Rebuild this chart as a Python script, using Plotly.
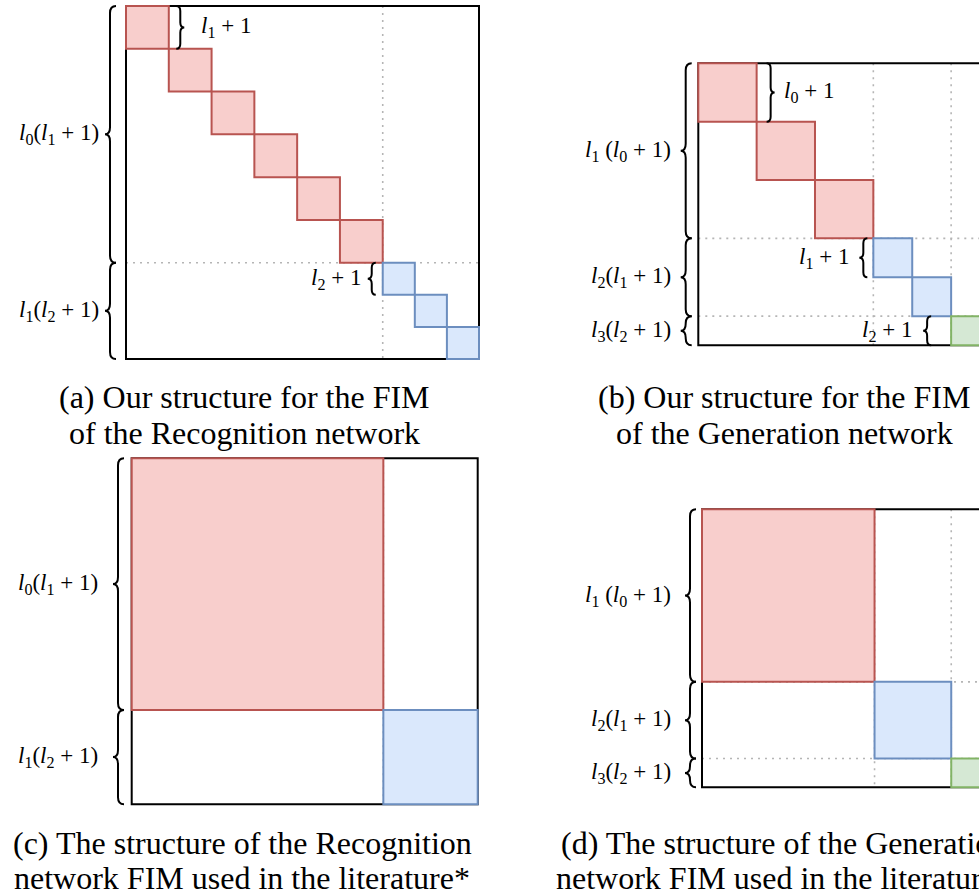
import plotly.graph_objects as go

W, H = 979, 895

# Layer structure of the two networks: diagonal blocks per layer and block size
rec_counts = [6, 3]
rec_sizes = [4, 3]
gen_counts = [3, 2, 1]
gen_sizes = [6, 4, 3]

# Size labels (HTML maths)
rec_span_labels = ["<i>l</i><sub>0</sub>(<i>l</i><sub>1</sub> + 1)",
                   "<i>l</i><sub>1</sub>(<i>l</i><sub>2</sub> + 1)"]
rec_block_labels = ["<i>l</i><sub>1</sub> + 1", "<i>l</i><sub>2</sub> + 1"]
gen_span_labels = ["<i>l</i><sub>1</sub> (<i>l</i><sub>0</sub> + 1)",
                   "<i>l</i><sub>2</sub>(<i>l</i><sub>1</sub> + 1)",
                   "<i>l</i><sub>3</sub>(<i>l</i><sub>2</sub> + 1)"]
gen_block_labels = ["<i>l</i><sub>0</sub> + 1", "<i>l</i><sub>1</sub> + 1",
                    "<i>l</i><sub>2</sub> + 1"]

caption_a = ["(a) Our structure for the FIM", "of the Recognition network"]
caption_b = ["(b) Our structure for the FIM", "of the Generation network"]
caption_c = ["(c) The structure of the Recognition", "network FIM used in the literature*"]
caption_d = ["(d) The structure of the Generation", "network FIM used in the literature*"]

FILLS = ["#f8cecc", "#dae8fc", "#d5e8d4"]
EDGES = ["#b85450", "#6c8ebf", "#82b366"]
DOT = "#b5b5b5"
FONT = "Liberation Serif"
LABEL_SIZE = 23
CAPTION_SIZE = 32

# Panel geometry in pixels: matrix box origin, pixels per matrix unit, drawing area
panels = [
    dict(counts=rec_counts, sizes=rec_sizes, spans=rec_span_labels,
         blocks=rec_block_labels, diag=True,
         x0=126, y0=6, ppu=353 / 33, area=(0, 0, 489, 369),
         span_dx=-16, span_text=-25,
         block_dx=[(1, 11.5, 30), (-1, -11, -20)]),
    dict(counts=gen_counts, sizes=gen_sizes, spans=gen_span_labels,
         blocks=gen_block_labels, diag=True,
         x0=698.3, y0=63.3, ppu=282 / 29, area=(560, 30, 979, 369),
         span_dx=-12.6, span_text=-25,
         block_dx=[(1, 14, 25), (-1, -10, -22), (-1, -24, -37)]),
    dict(counts=rec_counts, sizes=rec_sizes, spans=rec_span_labels,
         blocks=None, diag=False,
         x0=131.7, y0=458.3, ppu=346 / 33, area=(0, 450, 489, 812),
         span_dx=-13.7, span_text=-32),
    dict(counts=gen_counts, sizes=gen_sizes, spans=gen_span_labels,
         blocks=None, diag=False,
         x0=702, y0=509.3, ppu=278 / 29, area=(560, 490, 979, 800),
         span_dx=-12, span_text=-29),
]

captions = [(caption_a, 244, 397, 433), (caption_b, 784, 397, 433),
            (caption_c, 242, 843, 878), (caption_d, 784, 843, 878)]


def brace_path(xs, y1, y2, d, hook, q, tip):
    """Curly brace along x = xs from y1 to y2; d=-1 tip points left, d=+1 right."""
    ym = (y1 + y2) / 2
    return (f"M {xs - d * hook},{y1} Q {xs},{y1} {xs},{y1 + q} "
            f"L {xs},{ym - q} Q {xs},{ym} {xs + d * tip},{ym} "
            f"Q {xs},{ym} {xs},{ym + q} L {xs},{y2 - q} "
            f"Q {xs},{y2} {xs - d * hook},{y2}")


fig = go.Figure()
shapes, annotations = [], []

for i, p in enumerate(panels):
    n = "" if i == 0 else str(i + 1)
    xr, yr = "x" + n, "y" + n
    s = p["ppu"]
    left, top, right, bottom = p["area"]
    fig.update_layout({
        f"xaxis{n}": dict(domain=[left / W, right / W],
                          range=[(left - p["x0"]) / s, (right - p["x0"]) / s],
                          visible=False, fixedrange=True, anchor=yr),
        f"yaxis{n}": dict(domain=[1 - bottom / H, 1 - top / H],
                          range=[(bottom - p["y0"]) / s, (top - p["y0"]) / s],
                          visible=False, fixedrange=True, anchor=xr),
    })
    fig.add_trace(go.Scatter(x=[], y=[], xaxis=xr, yaxis=yr,
                             showlegend=False, hoverinfo="skip"))

    spans = [c * z for c, z in zip(p["counts"], p["sizes"])]
    starts = [sum(spans[:k]) for k in range(len(spans))]
    total = sum(spans)

    # dotted layer boundaries
    for b in starts[1:]:
        for (ax0, ay0, ax1, ay1) in [(b, 0, b, total), (0, b, total, b)]:
            shapes.append(dict(type="line", xref=xr, yref=yr, x0=ax0, y0=ay0,
                               x1=ax1, y1=ay1,
                               line=dict(color=DOT, width=1.6, dash="2px,5px")))

    # matrix outline
    shapes.append(dict(type="rect", xref=xr, yref=yr, x0=0, y0=0, x1=total,
                       y1=total, line=dict(color="black", width=2),
                       fillcolor="rgba(0,0,0,0)"))

    # blocks
    for k, (c, z) in enumerate(zip(p["counts"], p["sizes"])):
        pos = starts[k]
        if p["diag"]:
            for _ in range(c):
                shapes.append(dict(type="rect", xref=xr, yref=yr, x0=pos, y0=pos,
                                   x1=pos + z, y1=pos + z, fillcolor=FILLS[k],
                                   line=dict(color=EDGES[k], width=2)))
                pos += z
        else:
            shapes.append(dict(type="rect", xref=xr, yref=yr, x0=pos, y0=pos,
                               x1=pos + c * z, y1=pos + c * z, fillcolor=FILLS[k],
                               line=dict(color=EDGES[k], width=2)))

    # layer span braces on the left
    for k in range(len(spans)):
        y1, y2 = starts[k], starts[k] + spans[k]
        xs = p["span_dx"] / s
        shapes.append(dict(type="path", xref=xr, yref=yr,
                           path=brace_path(xs, y1, y2, -1, 6 / s, 7 / s, 5 / s),
                           line=dict(color="black", width=2)))
        annotations.append(dict(xref=xr, yref=yr, x=p["span_text"] / s,
                                y=(y1 + y2) / 2, text=p["spans"][k],
                                showarrow=False, xanchor="right", yanchor="middle",
                                font=dict(family=FONT, size=LABEL_SIZE, color="black")))

    # block size braces
    if p["blocks"]:
        for k, (side, dx, tdx) in enumerate(p["block_dx"]):
            y1, y2 = starts[k], starts[k] + p["sizes"][k]
            edge = y2 if side > 0 else y1
            xs = edge + dx / s
            shapes.append(dict(type="path", xref=xr, yref=yr,
                               path=brace_path(xs, y1, y2, side, 4 / s, 5 / s, 4 / s),
                               line=dict(color="black", width=2)))
            annotations.append(dict(xref=xr, yref=yr, x=edge + tdx / s,
                                    y=(y1 + y2) / 2, text=p["blocks"][k],
                                    showarrow=False,
                                    xanchor="left" if side > 0 else "right",
                                    yanchor="middle",
                                    font=dict(family=FONT, size=LABEL_SIZE,
                                              color="black")))

# captions
for lines, cx, ya, yb in captions:
    for txt, cy in zip(lines, (ya, yb)):
        annotations.append(dict(xref="paper", yref="paper", x=cx / W, y=1 - cy / H,
                                text=txt, showarrow=False, xanchor="center",
                                yanchor="middle",
                                font=dict(family=FONT, size=CAPTION_SIZE,
                                          color="black")))

fig.update_layout(width=W, height=H, margin=dict(l=0, r=0, t=0, b=0),
                  paper_bgcolor="white", plot_bgcolor="white",
                  shapes=shapes, annotations=annotations, showlegend=False)

fig.write_html("out.html")
